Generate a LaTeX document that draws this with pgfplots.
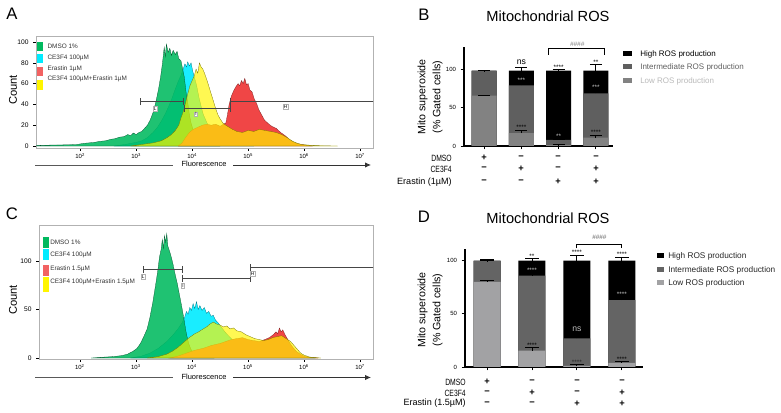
\documentclass[border=0pt]{standalone}
\usepackage{fontspec}
\setmainfont{Liberation Sans}
\newfontfamily\narrowfont{Liberation Sans}[FakeStretch=0.75]
\usepackage{pgfplots}
\pgfplotsset{compat=1.18}
\usetikzlibrary{arrows.meta}

\definecolor{hgreen}{RGB}{0,185,95}
\definecolor{hcyan}{RGB}{0,235,255}
\definecolor{hred}{RGB}{240,70,70}
\definecolor{hyellow}{RGB}{255,245,0}
\definecolor{lowB}{RGB}{130,130,130}
\definecolor{intB}{RGB}{95,95,95}
\definecolor{lowD}{RGB}{162,162,164}
\definecolor{intD}{RGB}{100,100,100}

\pgfplotsset{
  histo/.style={
    scale only axis,
    axis line style={gray!60},
    tick style={black, line width=0.4pt},
    tick align=outside,
    major tick length=2pt,
    xtick pos=bottom, ytick pos=left,
    xtick={2,3,4,5,6,7},
    xticklabels={10\textsuperscript{2},10\textsuperscript{3},10\textsuperscript{4},10\textsuperscript{5},10\textsuperscript{6},10\textsuperscript{7}},
    xticklabel style={font=\fontsize{4.5}{5}\selectfont, yshift=1.5pt},
    yticklabel style={font=\fontsize{5}{6}\selectfont},
    /pgf/number format/assume math mode=true,
  },
  gate/.style={draw=gray!55!black, line width=0.5pt, {|-|}},
  barax/.style={
    scale only axis,
    axis x line*=bottom, axis y line*=left,
    axis line style={line width=0.8pt, black},
    tick align=outside,
    major tick length=2.5pt,
    tick style={line width=0.7pt, black},
    xtick={0,1,2,3}, xticklabels={,,,},
    ytick={0,50,100},
    yticklabel style={font=\fontsize{4.5}{5}\selectfont},
    /pgf/number format/assume math mode=true,
    clip=false,
  },
  errs/.style={draw=none, forget plot,
    error bars/.cd, y dir=plus, y explicit,
    error bar style={draw=black, line width=0.7pt},
    error mark options={rotate=90, draw=black, line width=0.7pt, mark size=#1}},
}

\begin{document}
\begin{tikzpicture}

% ---------------- A: histogram ----------------
\begin{axis}[histo, at={(27pt,198.75pt)}, anchor=south west,
  width=252.75pt, height=84pt,
  xmin=1.21, xmax=7.23, ymin=-1.9, ymax=105.8,
  ytick={0,20,40,60,80,100}]
% CE3F4 100uM
\addplot[fill=hcyan, fill opacity=0.9, draw=hcyan!50!black, line width=0.2pt] coordinates {
(2.6,0)(2.8,1.5)(3.0,3.5)(3.1,5)(3.2,8)(3.3,13)(3.38,18)(3.45,24)(3.52,31)(3.58,38)(3.64,46)(3.7,55)(3.75,62)(3.8,68)(3.84,74)(3.87,79)(3.9,76)(3.92,81)(3.95,77)(3.98,80)(4.01,72)(4.04,66)(4.08,58)(4.12,47)(4.16,38)(4.2,30)(4.25,24)(4.3,18)(4.36,13)(4.42,9)(4.5,6)(4.6,3.5)(4.75,2)(4.9,1)(5.1,0)
} \closedcycle;
% DMSO 1%
\addplot[fill=hgreen, fill opacity=0.88, draw=hgreen!45!black, line width=0.2pt] coordinates {
(1.22,0.5)(1.4,0.8)(1.6,1)(1.8,1.2)(1.95,1.5)(2.05,2.5)(2.15,3)(2.25,3.5)(2.35,4.5)(2.45,5)(2.55,6.5)(2.62,7)(2.7,8.5)(2.78,9)(2.85,11)(2.9,10)(2.95,12.5)(3.0,11)(3.05,13)(3.1,14)(3.15,17)(3.2,20)(3.25,25)(3.3,32)(3.35,42)(3.4,55)(3.44,68)(3.47,80)(3.5,95)(3.52,86)(3.54,98)(3.57,90)(3.6,94)(3.63,87)(3.66,92)(3.7,88)(3.73,91)(3.76,84)(3.8,82)(3.83,74)(3.86,66)(3.89,52)(3.92,42)(3.95,30)(3.98,22)(4.02,15)(4.07,9)(4.13,5)(4.22,2.5)(4.35,1)(4.5,0)
} \closedcycle;
% Erastin 1uM
\addplot[fill=hred, draw=hred!50!black, line width=0.2pt] coordinates {
(3.75,0)(3.82,3)(3.88,8)(3.95,13)(4.02,16)(4.1,18)(4.18,20)(4.26,21)(4.34,20)(4.42,21)(4.5,19)(4.56,21)(4.6,22)(4.63,30)(4.66,40)(4.7,48)(4.74,53)(4.78,57)(4.82,60)(4.85,58)(4.88,63)(4.91,60)(4.94,65)(4.97,59)(5.0,60)(5.03,54)(5.07,52)(5.11,45)(5.15,41)(5.19,35)(5.24,30)(5.29,25)(5.35,22)(5.42,19)(5.5,17)(5.58,13)(5.66,10)(5.74,6)(5.82,3.5)(5.9,2)(6.0,1)(6.15,0)
} \closedcycle;
% CE3F4 100uM + Erastin 1uM
\addplot[fill=hyellow, fill opacity=0.68, draw=hyellow!45!black, line width=0.2pt] coordinates {
(2.9,0)(3.1,1.5)(3.3,3)(3.45,5)(3.55,8)(3.63,11)(3.7,15)(3.76,20)(3.8,27)(3.84,33)(3.88,41)(3.92,50)(3.96,58)(4.0,63)(4.04,68)(4.07,74)(4.1,70)(4.13,80)(4.16,76)(4.19,74)(4.22,70)(4.26,64)(4.3,57)(4.34,50)(4.38,43)(4.42,36)(4.46,30)(4.5,26)(4.55,22)(4.6,20)(4.66,18)(4.72,16)(4.8,14)(4.9,13)(5.0,15)(5.1,14)(5.2,16)(5.3,15)(5.4,14)(5.5,13)(5.6,11)(5.7,8)(5.78,5)(5.86,3)(5.95,1.5)(6.1,0.8)(6.3,0.3)(6.6,0)
} \closedcycle;
% gates
\addplot[gate] coordinates {(3.07,42.6)(3.85,42.6)};
\addplot[gate] coordinates {(3.85,36)(4.68,36)};
\addplot[gate] coordinates {(4.68,43)(7.3,43)};
\node[draw=gray!60, fill=white, inner sep=0.6pt, font=\fontsize{3.5}{4}\selectfont] at (axis cs:3.34,36) {L};
\node[draw=gray!60, fill=white, inner sep=0.6pt, font=\fontsize{3.5}{4}\selectfont] at (axis cs:4.07,30.5) {I};
\node[draw=gray!60, fill=white, inner sep=0.6pt, font=\fontsize{3.5}{4}\selectfont] at (axis cs:5.67,38) {H};
\end{axis}

% ---------------- C: histogram ----------------
\begin{axis}[histo, at={(29.25pt,40.5pt)}, anchor=south west,
  width=250.5pt, height=100.5pt,
  xmin=1.27, xmax=7.23, ymin=-1, ymax=137,
  ytick={0,50,100}]
% CE3F4 100uM
\addplot[fill=hcyan, fill opacity=0.9, draw=hcyan!50!black, line width=0.2pt] coordinates {
(2.9,0)(3.1,2)(3.25,5)(3.4,10)(3.55,17)(3.65,23)(3.75,30)(3.82,36)(3.87,42)(3.9,48)(3.93,45)(3.96,52)(3.99,49)(4.02,56)(4.05,51)(4.08,58)(4.11,50)(4.14,54)(4.18,49)(4.22,52)(4.26,46)(4.3,48)(4.34,43)(4.38,44)(4.42,39)(4.47,36)(4.52,32)(4.6,26)(4.7,20)(4.8,15)(4.9,12)(5.0,10)(5.2,8)(5.4,7)(5.6,5)(5.8,2.5)(6.0,0.5)(6.2,0)
} \closedcycle;
% DMSO 1%
\addplot[fill=hgreen, fill opacity=0.88, draw=hgreen!45!black, line width=0.2pt] coordinates {
(2.2,0)(2.4,0.8)(2.6,1.5)(2.75,2.5)(2.85,4)(2.95,7)(3.02,10)(3.08,15)(3.14,22)(3.2,30)(3.25,42)(3.3,57)(3.35,75)(3.39,90)(3.42,104)(3.45,112)(3.47,122)(3.49,113)(3.51,126)(3.53,119)(3.55,128)(3.57,115)(3.6,110)(3.63,104)(3.66,97)(3.7,86)(3.74,76)(3.78,64)(3.82,52)(3.86,39)(3.9,25)(3.94,15)(3.98,9)(4.04,4.5)(4.12,2)(4.25,0.5)(4.4,0)
} \closedcycle;
% Erastin 1.5uM
\addplot[fill=hred, draw=hred!50!black, line width=0.2pt] coordinates {
(3.6,0)(3.75,2)(3.9,5)(4.05,8)(4.2,10)(4.35,13)(4.5,15)(4.6,17)(4.7,19)(4.8,20)(4.9,21)(5.0,19)(5.1,18)(5.2,17)(5.3,19)(5.38,21)(5.45,24)(5.5,27)(5.53,25)(5.56,31)(5.59,27)(5.62,29)(5.66,24)(5.7,20)(5.75,15)(5.8,11)(5.86,7)(5.93,4)(6.0,2)(6.1,0.5)(6.25,0)
} \closedcycle;
% CE3F4 100uM + Erastin 1.5uM
\addplot[fill=hyellow, fill opacity=0.68, draw=hyellow!45!black, line width=0.2pt] coordinates {
(3.2,0)(3.4,1.5)(3.55,4)(3.65,7)(3.75,11)(3.85,16)(3.95,21)(4.05,25)(4.12,27)(4.2,30)(4.26,32)(4.32,35)(4.38,37)(4.44,35)(4.5,34)(4.56,32)(4.62,33)(4.68,30)(4.74,31)(4.8,28)(4.88,27)(4.96,24)(5.04,22)(5.12,20)(5.2,19)(5.28,18)(5.36,19)(5.44,21)(5.52,22)(5.6,23)(5.68,20)(5.76,17)(5.82,13)(5.88,9)(5.94,5)(6.0,3)(6.1,1)(6.3,0)
} \closedcycle;
% gates
\addplot[gate] coordinates {(3.12,91.5)(3.83,91.5)};
\addplot[gate] coordinates {(3.83,82)(5.04,82)};
\addplot[gate] coordinates {(5.04,93)(7.3,93)};
\node[draw=gray!60, fill=white, inner sep=0.6pt, font=\fontsize{3.5}{4}\selectfont] at (axis cs:3.13,84) {L};
\node[draw=gray!60, fill=white, inner sep=0.6pt, font=\fontsize{3.5}{4}\selectfont] at (axis cs:3.84,74.5) {I};
\node[draw=gray!60, fill=white, inner sep=0.6pt, font=\fontsize{3.5}{4}\selectfont] at (axis cs:5.08,87) {H};
\end{axis}

% ---------------- B: stacked bars ----------------
\begin{axis}[barax, at={(348pt,200.25pt)}, anchor=south west,
  width=111.75pt, height=74.25pt,
  xmin=-0.54, xmax=3.46, ymin=0, ymax=130]
% High (total), Intermediate (cumulative), Low
\addplot[ybar, bar width=18.75pt, bar shift=0pt, fill=black, draw=none] coordinates {(0,99)(1,99)(2,99)(3,99)};
\addplot[ybar, bar width=18.75pt, bar shift=0pt, fill=intB, draw=none] coordinates {(0,98.5)(1,79.5)(2,8)(3,69)};
\addplot[ybar, bar width=18.75pt, bar shift=0pt, fill=lowB, draw=none] coordinates {(0,66)(1,17)(2,1)(3,11)};
\addplot[errs=4.5pt] coordinates {(0,99) +- (0,0.5) (1,99) +- (0,3.5) (2,99) +- (0,1) (3,99) +- (0,8)};
\addplot[errs=4.5pt] coordinates {(0,98.5) +- (0,0.3) (1,79.5) +- (0,3) (2,8) +- (0,0.8) (3,69) +- (0,5)};
\addplot[errs=4.5pt] coordinates {(0,66) +- (0,0.8) (1,17) +- (0,4) (2,1) +- (0,0.5) (3,11) +- (0,3)};
\begin{scope}[every node/.style={anchor=base, inner sep=0pt, font=\fontsize{4.8}{5}\selectfont}]
\node[font=\fontsize{6.5}{7}\selectfont] at (axis cs:1,107) {ns};
\node[text=gray!45] at (axis cs:1,83.5) {***};
\node at (axis cs:1,21.5) {****};
\node at (axis cs:2,100.5) {****};
\node[text=gray!50] at (axis cs:2,9.5) {**};
\node at (axis cs:3,107.5) {**};
\node[text=gray!45] at (axis cs:3,74.5) {***};
\node at (axis cs:3,14.5) {****};
\node[text=black!50] at (axis cs:2.5,131) {\textit{\#\#\#\#}};
\end{scope}
\draw[line width=0.8pt] (axis cs:1.73,120) -- (axis cs:1.73,127.6) -- (axis cs:3.22,127.6) -- (axis cs:3.22,120);
\end{axis}

% ---------------- D: stacked bars ----------------
\begin{axis}[barax, at={(348.75pt,34.5pt)}, anchor=south west,
  width=133.5pt, height=88.5pt,
  xmin=-0.49, xmax=3.47, ymin=0, ymax=111]
\addplot[ybar, bar width=20.25pt, bar shift=0pt, fill=black, draw=none] coordinates {(0,100)(1,100)(2,100)(3,100)};
\addplot[ybar, bar width=20.25pt, bar shift=0pt, fill=intD, draw=none] coordinates {(0,99.5)(1,86)(2,27)(3,63)};
\addplot[ybar, bar width=20.25pt, bar shift=0pt, fill=lowD, draw=none] coordinates {(0,80)(1,15.5)(2,1)(3,3.8)};
\addplot[errs=5pt] coordinates {(0,100) +- (0,1) (1,100) +- (0,2) (2,100) +- (0,5) (3,100) +- (0,3.5)};
\addplot[errs=5pt] coordinates {(0,99.5) +- (0,0.4) (1,86) +- (0,2.5) (2,27) +- (0,5) (3,63) +- (0,3)};
\addplot[errs=5pt] coordinates {(0,80) +- (0,1) (1,15.5) +- (0,2.5) (2,1) +- (0,1) (3,3.8) +- (0,1)};
\begin{scope}[every node/.style={anchor=base, inner sep=0pt, font=\fontsize{4.8}{5}\selectfont}]
\node at (axis cs:1,102.5) {**};
\node[text=gray!45] at (axis cs:1,89) {****};
\node at (axis cs:1,18.5) {****};
\node at (axis cs:2,105.5) {****};
\node[text=gray!55, font=\fontsize{6.5}{7}\selectfont] at (axis cs:2,33) {ns};
\node[text=gray!30!black] at (axis cs:2,2) {****};
\node at (axis cs:3,104) {****};
\node[text=gray!45] at (axis cs:3,66.5) {****};
\node at (axis cs:3,5) {****};
\node[text=black!60] at (axis cs:2.5,120) {\#\#\#\#};
\end{scope}
\draw[line width=0.8pt] (axis cs:2,111.5) -- (axis cs:2,115) -- (axis cs:3,115) -- (axis cs:3,111.5);
\end{axis}

% ---------------- decorations (coordinates in reference pixels) ----------------
\begin{scope}[x=0.75pt, y=0.75pt, every node/.style={inner sep=0pt}]
% panel letters
\node[font=\fontsize{12.5}{14}\selectfont] at (12,399) {A};
\node[font=\fontsize{12.5}{14}\selectfont] at (424,398.5) {B};
\node[font=\fontsize{12.5}{14}\selectfont] at (12,199) {C};
\node[font=\fontsize{12.5}{14}\selectfont] at (424,196) {D};
% titles
\node[font=\fontsize{11}{13}\selectfont] at (548,397) {Mitochondrial ROS};
\node[font=\fontsize{11}{13}\selectfont] at (548,195) {Mitochondrial ROS};
% Count labels
\node[rotate=90, font=\fontsize{8.4}{10}\selectfont] at (13,323) {Count};
\node[rotate=90, font=\fontsize{8.4}{10}\selectfont] at (13,113) {Count};
% bar y labels
\node[rotate=90, align=center, font=\fontsize{8}{11.25}\selectfont] at (430,316) {Mito superoxide\\(\% Gated cells)};
\node[rotate=90, align=center, font=\fontsize{8}{11.25}\selectfont] at (430,103) {Mito superoxide\\(\% Gated cells)};
% Fluorescence arrows
\node[font=\fontsize{5.6}{6.5}\selectfont] at (204,249) {Fluorescence};
\draw[line width=0.6pt, gray!70!black] (35,248) -- (173,248);
\draw[line width=0.6pt, gray!40!black, -{Latex[length=4.5pt,width=4pt]}] (233,248) -- (371,248);
\node[font=\fontsize{5.6}{6.5}\selectfont] at (204,36.5) {Fluorescence};
\draw[line width=0.6pt, gray!70!black] (35,35.5) -- (173,35.5);
\draw[line width=0.6pt, gray!40!black, -{Latex[length=4.5pt,width=4pt]}] (233,35.5) -- (371,35.5);
% A legend
\fill[hgreen] (37.3,362) rectangle (43.3,370.7);
\fill[hcyan] (37.3,349.7) rectangle (43.3,358.7);
\fill[hred!85] (37.3,337.3) rectangle (43.3,346.3);
\fill[hyellow] (37.3,323) rectangle (43.3,333);
\begin{scope}[every node/.style={anchor=west, inner sep=0pt, font=\fontsize{4.8}{5}\selectfont, text=black!80}]
\node at (47.3,366.3) {DMSO 1\%};
\node at (47.3,354.7) {CE3F4 100µM};
\node at (47.3,343.7) {Erastin 1µM};
\node at (47.3,334) {CE3F4 100µM+Erastin 1µM};
\end{scope}
% C legend
\fill[hgreen] (42.7,165.3) rectangle (48.7,176.3);
\fill[hcyan] (42.7,153) rectangle (48.7,164);
\fill[hred!85] (42.7,137) rectangle (48.7,148);
\fill[hyellow] (42.7,121) rectangle (48.7,136);
\begin{scope}[every node/.style={anchor=west, inner sep=0pt, font=\fontsize{4.8}{5}\selectfont, text=black!80}]
\node at (50,170.7) {DMSO 1\%};
\node at (50,158) {CE3F4 100µM};
\node at (50,144) {Erastin 1.5µM};
\node at (50,131.3) {CE3F4 100µM+Erastin 1.5µM};
\end{scope}
% B legend
\fill[black] (623,357) rectangle (632,361.5);
\fill[intB] (623,344) rectangle (632,348.5);
\fill[lowB] (623,330) rectangle (632,334.5);
\begin{scope}[every node/.style={anchor=west, inner sep=0pt, font=\fontsize{6}{7}\selectfont}]
\node at (640,359) {High ROS production};
\node[text=intB] at (640,346) {Intermediate ROS production};
\node[text=gray!55] at (640,332) {Low ROS production};
\end{scope}
% D legend
\fill[black] (657,154.5) rectangle (664,159.5);
\fill[intD] (657,140.5) rectangle (664,145.5);
\fill[lowD] (657,127.5) rectangle (664,132.5);
\begin{scope}[every node/.style={anchor=west, inner sep=0pt, font=\fontsize{6.2}{7}\selectfont, text=black!85}]
\node at (668,157) {High ROS production};
\node at (668,143) {Intermediate ROS production};
\node at (668,130) {Low ROS production};
\end{scope}
% treatment tables
\begin{scope}[every node/.style={anchor=east, inner sep=0pt, font=\fontsize{6.8}{8}\selectfont}]
\node at (452,255) {\narrowfont DMSO};
\node at (452,244) {\narrowfont CE3F4};
\node at (452,231) {Erastin (1µM)};
\node at (466,31) {\narrowfont DMSO};
\node at (466,20) {\narrowfont CE3F4};
\node at (466,9.7) {Erastin (1.5µM)};
\end{scope}
\begin{scope}[every node/.style={inner sep=0pt, font=\bfseries\fontsize{7}{8}\selectfont}]
% B rows
\node at (484,255) {+}; \node at (521,255) {−}; \node at (558,255) {−}; \node at (596,255) {−};
\node at (484,244) {−}; \node at (521,244) {+}; \node at (558,244) {−}; \node at (596,244) {+};
\node at (484,231) {−}; \node at (521,231) {−}; \node at (558,231) {+}; \node at (596,231) {+};
% D rows
\node at (487,31) {+}; \node at (532,31) {−}; \node at (577,31) {−}; \node at (622,31) {−};
\node at (487,20) {−}; \node at (532,20) {+}; \node at (577,20) {−}; \node at (622,20) {+};
\node at (487,9.7) {−}; \node at (532,9.7) {−}; \node at (577,9.7) {+}; \node at (622,9.7) {+};
\end{scope}
\pgfresetboundingbox
\path[use as bounding box] (0,0) rectangle (781,413);
\end{scope}
\end{tikzpicture}
\end{document}
